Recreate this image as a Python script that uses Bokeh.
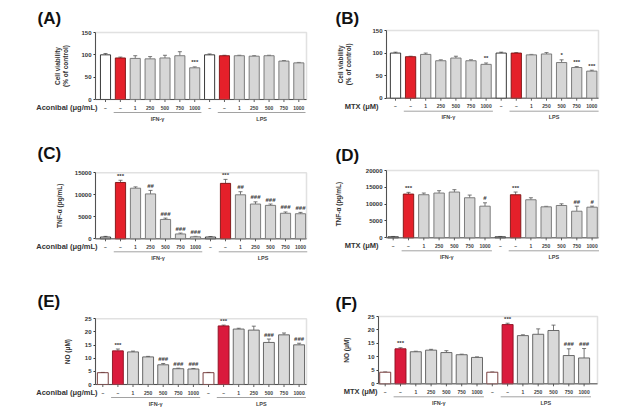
import math
from bokeh.plotting import figure
from bokeh.layouts import gridplot
from bokeh.models import (Range1d, FixedTicker, BoxAnnotation, ColumnDataSource, Whisker, TeeHead)
from bokeh.core.properties import value
from bokeh.embed import file_html
from bokeh.resources import INLINE

FONT = "Liberation Sans"

# ---------------- data ----------------
dose_labels = ["–", "–", "1", "250", "500", "750", "1000",
               "–", "–", "1", "250", "500", "750", "1000"]
group_names = ["IFN-γ", "LPS"]
bar_types = ["w", "r", "g", "g", "g", "g", "g",
             "w", "r", "g", "g", "g", "g", "g"]

viab_aconibal = [100, 93, 92, 91, 93, 98, 71, 100, 98, 98, 97, 98, 86, 82]
viab_aconibal_err = [3, 2, 6, 5, 6, 9, 2, 2, 1, 1, 1, 1, 1, 1]
viab_aconibal_sig = ["", "", "", "", "", "", "***", "", "", "", "", "", "", ""]

viab_mtx = [100, 92, 97, 83, 89, 83, 75, 100, 100, 96, 98, 79, 68, 60]
viab_mtx_err = [2, 1, 3, 2, 4, 2, 3, 2, 1, 1, 3, 6, 2, 2]
viab_mtx_sig = ["", "", "", "", "", "", "**", "", "", "", "", "*", "***", "***"]

tnf_aconibal = [400, 12800, 11500, 10200, 4400, 1100, 450,
                400, 12600, 10000, 7900, 7600, 5800, 5700]
tnf_aconibal_err = [150, 500, 300, 800, 300, 200, 100,
                    100, 900, 700, 500, 300, 300, 300]
tnf_aconibal_sig = ["", "***", "", "##", "###", "###", "###",
                    "", "***", "##", "###", "###", "###", "###"]

tnf_mtx = [300, 13000, 12800, 13300, 13600, 11900, 9400,
           300, 12800, 11300, 9200, 9600, 7900, 9100]
tnf_mtx_err = [100, 500, 500, 700, 700, 800, 1000,
               100, 800, 600, 150, 500, 1500, 300]
tnf_mtx_sig = ["", "***", "", "", "", "", "#",
               "", "***", "", "", "", "##", "#"]

no_aconibal = [4.5, 12.8, 12.4, 10.5, 7.5, 6.0, 5.9,
               4.5, 22.3, 21.1, 20.7, 16.0, 18.9, 15.1]
no_aconibal_err = [0.1, 0.7, 0.3, 0.2, 0.5, 0.2, 0.2,
                   0.1, 0.3, 0.3, 1.5, 1.3, 0.7, 0.6]
no_aconibal_sig = ["", "***", "", "", "###", "###", "###",
                   "", "***", "", "", "###", "", "###"]

no_mtx = [4.3, 13.0, 11.9, 12.5, 11.6, 10.8, 9.8,
          4.3, 22.0, 17.9, 18.4, 19.8, 10.5, 9.6]
no_mtx_err = [0.1, 0.4, 0.2, 0.3, 0.7, 0.2, 0.2,
              0.1, 0.5, 0.3, 2.0, 2.0, 2.5, 3.5]
no_mtx_sig = ["", "***", "", "", "", "", "",
              "", "***", "", "", "", "###", "###"]

viab_ticks = [0, 50, 100, 150]
tnf_aconibal_ticks = [0, 5000, 10000, 15000]
tnf_mtx_ticks = [0, 5000, 10000, 15000, 20000]
no_ticks = [0, 5, 10, 15, 20, 25]

# ---------------- style / layout ----------------
W = 310
LB = 24          # left border reserved for the (relocated) y axis
STYLE_A = dict(fill={"w": "#ffffff", "r": "#e5202a", "g": "#d6d6d6"},
               line={"w": "#222222", "r": "#7a1212", "g": "#707070"})
STYLE_B = dict(fill={"w": "#ffffff", "r": "#da1a3c", "g": "#d9d9d9"},
               line={"w": "#6b2a2a", "r": "#8a1020", "g": "#5a5a5a"})

# pixel geometry of each panel (page coordinates)
panels = [
    dict(letter="(A)", vals=viab_aconibal, err=viab_aconibal_err, sig=viab_aconibal_sig,
         ticks=viab_ticks, ylabel="Cell viability\n(% of control)", xlabel="Aconibal (μg/mL)",
         ox=0, oy=0, h=139, fl=95, fr=306, top=32, zero=99, first=105, sp=14.87,
         xl_end=97, yl_x=61, let_xy=(37, 18), bw=0.68, st=STYLE_A),
    dict(letter="(B)", vals=viab_mtx, err=viab_mtx_err, sig=viab_mtx_sig,
         ticks=viab_ticks, ylabel="Cell viability\n(% of control)", xlabel="MTX (μM)",
         ox=310, oy=0, h=139, fl=386, fr=598, top=30, zero=97.7, first=395, sp=15.1,
         xl_end=378, yl_x=344, let_xy=(335, 18), bw=0.68, st=STYLE_A),
    dict(letter="(C)", vals=tnf_aconibal, err=tnf_aconibal_err, sig=tnf_aconibal_sig,
         ticks=tnf_aconibal_ticks, ylabel="TNF-α (pg/mL)", xlabel="Aconibal (μg/mL)",
         ox=0, oy=139, h=139, fl=95, fr=306, top=172.3, zero=238.3, first=105, sp=15.0,
         xl_end=97, yl_x=59, let_xy=(37, 153), bw=0.68, st=STYLE_A),
    dict(letter="(D)", vals=tnf_mtx, err=tnf_mtx_err, sig=tnf_mtx_sig,
         ticks=tnf_mtx_ticks, ylabel="TNF-α (pg/mL)", xlabel="MTX (μM)",
         ox=310, oy=139, h=139, fl=386, fr=598, top=170, zero=237.3, first=392.7, sp=15.3,
         xl_end=378, yl_x=338, let_xy=(335, 155), bw=0.68, st=STYLE_A),
    dict(letter="(E)", vals=no_aconibal, err=no_aconibal_err, sig=no_aconibal_sig,
         ticks=no_ticks, ylabel="NO (μM)", xlabel="Aconibal (μg/mL)",
         ox=0, oy=278, h=138, fl=95, fr=306, top=318.3, zero=384, first=102.3, sp=15.1,
         xl_end=97, yl_x=67, let_xy=(37, 301), bw=0.72, st=STYLE_B),
    dict(letter="(F)", vals=no_mtx, err=no_mtx_err, sig=no_mtx_sig,
         ticks=no_ticks, ylabel="NO (μM)", xlabel="MTX (μM)",
         ox=310, oy=278, h=138, fl=378, fr=597, top=316, zero=383.3, first=384.7, sp=15.3,
         xl_end=377, yl_x=346, let_xy=(335, 303), bw=0.72, st=STYLE_B),
]


def txt(p, x, y, t, size, align="center", baseline="middle", angle=0.0, bold=True,
        color="#333333"):
    p.text(x=x, y=y, text=t, text_align=align, text_baseline=baseline, angle=angle,
           text_font=value(FONT), text_font_size=size,
           text_font_style="bold" if bold else "normal", text_color=color)


def make_panel(c):
    ox, oy, fl, fr, top, zero, first, sp = (c["ox"], c["oy"], c["fl"], c["fr"],
                                            c["top"], c["zero"], c["first"], c["sp"])
    H = c["h"]
    ymax = c["ticks"][-1]
    s = ymax / (zero - top)                       # data units per pixel (y)
    X = lambda px: (px - first) / sp              # page px -> data x
    Y = lambda py: (zero - py) * s                # page px -> data y

    f_left, f_right = ox + LB, ox + W - 2
    f_top, f_bottom = oy + 2, oy + H - 2

    p = figure(width=W, height=H,
               x_range=Range1d(X(f_left), X(f_right)),
               y_range=Range1d(Y(f_bottom), Y(f_top)),
               x_axis_location=None, toolbar_location=None, output_backend="svg",
               min_border_left=LB, min_border_right=2, min_border_top=2, min_border_bottom=2,
               outline_line_color=None, background_fill_color="white",
               border_fill_color="white")
    p.grid.visible = False

    # real y axis, relocated to the left edge of the plot box
    ax = p.yaxis[0]
    ax.fixed_location = X(fl)
    ax.bounds = (0, ymax)
    ax.ticker = FixedTicker(ticks=c["ticks"])
    ax.major_label_overrides = {t: str(t) for t in c["ticks"]}
    ax.major_label_text_font = FONT
    ax.major_label_text_font_size = "6px"
    ax.major_label_text_font_style = "bold"
    ax.major_label_text_color = "#333333"
    ax.major_label_standoff = 2
    ax.major_tick_in = 0
    ax.major_tick_out = 2
    ax.minor_tick_out = 0
    ax.minor_tick_in = 0
    ax.axis_line_color = "#333333"
    ax.major_tick_line_color = "#333333"

    # plot box (gray top / right) and x axis line
    p.add_layout(BoxAnnotation(left=X(fl), right=X(fr), bottom=0, top=ymax,
                               fill_alpha=0, line_color="#9a9a9a", line_width=1.5))
    p.segment(x0=[X(fl)], y0=[0], x1=[X(fr)], y1=[0], line_color="#333333", line_width=1)

    st = c["st"]
    xpos = list(range(len(c["vals"])))
    upper = [v + e for v, e in zip(c["vals"], c["err"])]
    src = ColumnDataSource(dict(
        x=xpos, top=c["vals"], upper=upper,
        sig=c["sig"], sig_y=[u + 1.5 * s for u in upper],
        fill=[st["fill"][t] for t in bar_types], line=[st["line"][t] for t in bar_types],
    ))
    p.vbar(x="x", top="top", bottom=0, width=c["bw"], fill_color="fill", line_color="line",
           line_width=0.9, source=src)
    p.add_layout(Whisker(source=src, base="x", upper="upper", lower="top",
                         line_color="#555555", line_width=0.8,
                         upper_head=TeeHead(size=4, line_color="#555555", line_width=0.8),
                         lower_head=None))
    p.text(x="x", y="sig_y", text="sig", source=src, text_align="center",
           text_baseline="bottom", text_font=value(FONT), text_font_size="6px",
           text_font_style="bold", text_color="#333333")

    # x ticks and dose labels
    n = len(xpos)
    p.segment(x0=xpos, y0=[0] * n, x1=xpos, y1=[-2.5 * s] * n,
              line_color="#333333", line_width=0.8)
    txt(p, xpos, [Y(zero + 8)] * n, dose_labels, "5px", color="#444444")

    # group underlines + names
    p.segment(x0=[0.55, 7.55], y0=[Y(zero + 13)] * 2, x1=[6.45, 13.45], y1=[Y(zero + 13)] * 2,
              line_color="#8a8a8a", line_width=0.8)
    txt(p, [3.5, 10.5], [Y(zero + 19)] * 2, group_names, "5.5px", color="#444444")

    # x-variable label
    txt(p, [X(c["xl_end"])], [Y(zero + 8)], [c["xlabel"]], "7.5px", align="right")
    # y-axis title (rotated)
    txt(p, [X(c["yl_x"])], [Y((top + zero) / 2)], [c["ylabel"]], "6.5px", angle=math.pi / 2)
    # panel letter
    lx, ly = c["let_xy"]
    txt(p, [X(lx)], [Y(ly)], [c["letter"]], "17px", align="left", color="#111111")
    return p


figs = [make_panel(c) for c in panels]
grid = gridplot([[figs[0], figs[1]], [figs[2], figs[3]], [figs[4], figs[5]]],
                toolbar_location=None)

open("out.html", "w").write(file_html(grid, INLINE))
